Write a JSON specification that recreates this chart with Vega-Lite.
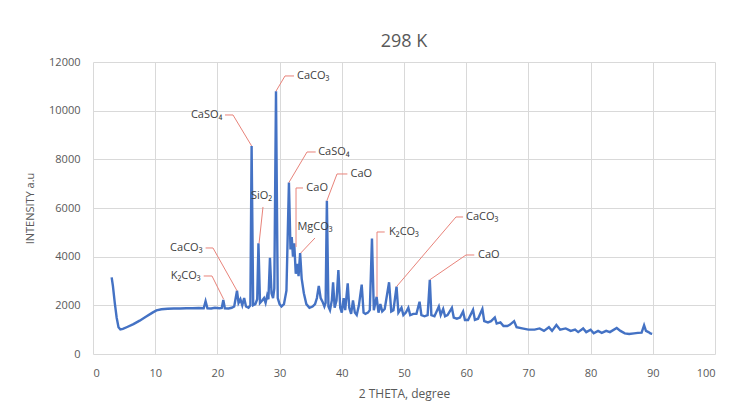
{
  "$schema": "https://vega.github.io/schema/vega-lite/v6.json",
  "autosize": "none",
  "width": 622,
  "height": 292,
  "padding": {"left": 93, "top": 62, "right": 17, "bottom": 57},
  "background": "white",
  "title": {"text": "298 K", "fontSize": 18, "font": "Open Sans", "fontWeight": "normal", "color": "#595959", "anchor": "middle", "offset": 5},
  "config": {"view": {"stroke": null}, "font": "Open Sans"},
  "datasets": {
    "xrd": [
      {"x":3.0,"y":3150},{"x":3.2,"y":2800},{"x":3.5,"y":2100},{"x":3.8,"y":1500},{"x":4.1,"y":1100},{"x":4.4,"y":1010},{"x":4.8,"y":1030},{"x":5.5,"y":1110},{"x":6.5,"y":1230},{"x":7.5,"y":1370},{"x":8.5,"y":1530},{"x":9.5,"y":1690},{"x":10.2,"y":1790},{"x":11,"y":1840},{"x":12,"y":1860},{"x":13,"y":1870},{"x":14,"y":1870},{"x":15,"y":1880},{"x":16,"y":1880},{"x":17,"y":1890},{"x":17.8,"y":1880},{"x":18.1,"y":2170},{"x":18.4,"y":1880},{"x":19,"y":1870},{"x":19.6,"y":1900},{"x":20.3,"y":1880},{"x":20.7,"y":1890},{"x":20.95,"y":2220},{"x":21.2,"y":1880},{"x":21.8,"y":1870},{"x":22.3,"y":1900},{"x":22.7,"y":1950},{"x":23.15,"y":2600},{"x":23.4,"y":2100},{"x":23.7,"y":2250},{"x":24.0,"y":2000},{"x":24.3,"y":2300},{"x":24.6,"y":1950},{"x":25.0,"y":1900},{"x":25.3,"y":2000},{"x":25.5,"y":8550},{"x":25.75,"y":2000},{"x":26.1,"y":2050},{"x":26.4,"y":2250},{"x":26.6,"y":4550},{"x":26.85,"y":2100},{"x":27.2,"y":2200},{"x":27.5,"y":2300},{"x":27.75,"y":2100},{"x":28.0,"y":2400},{"x":28.2,"y":2250},{"x":28.45,"y":3950},{"x":28.7,"y":2500},{"x":28.95,"y":2300},{"x":29.15,"y":2700},{"x":29.42,"y":10800},{"x":29.7,"y":2300},{"x":30.0,"y":2050},{"x":30.3,"y":1950},{"x":30.7,"y":2050},{"x":31.1,"y":2600},{"x":31.5,"y":7050},{"x":31.75,"y":4300},{"x":31.95,"y":4800},{"x":32.15,"y":4000},{"x":32.35,"y":4550},{"x":32.6,"y":3300},{"x":32.85,"y":3700},{"x":33.05,"y":3200},{"x":33.3,"y":4150},{"x":33.55,"y":3100},{"x":33.9,"y":2500},{"x":34.3,"y":2050},{"x":34.8,"y":1900},{"x":35.3,"y":1950},{"x":35.7,"y":2050},{"x":36.0,"y":2300},{"x":36.3,"y":2800},{"x":36.6,"y":2300},{"x":36.9,"y":2150},{"x":37.2,"y":1950},{"x":37.4,"y":2100},{"x":37.6,"y":6300},{"x":37.85,"y":1950},{"x":38.1,"y":1800},{"x":38.4,"y":2200},{"x":38.6,"y":2950},{"x":38.85,"y":1900},{"x":39.15,"y":2200},{"x":39.45,"y":3450},{"x":39.75,"y":1900},{"x":40.0,"y":1700},{"x":40.3,"y":2300},{"x":40.55,"y":1800},{"x":40.95,"y":2900},{"x":41.2,"y":1900},{"x":41.5,"y":1650},{"x":41.8,"y":2200},{"x":42.1,"y":1700},{"x":42.4,"y":1600},{"x":42.75,"y":2000},{"x":43.2,"y":2850},{"x":43.5,"y":1700},{"x":43.8,"y":1650},{"x":44.2,"y":1700},{"x":44.5,"y":1800},{"x":44.85,"y":4750},{"x":45.15,"y":1800},{"x":45.6,"y":2350},{"x":45.9,"y":1700},{"x":46.2,"y":2050},{"x":46.5,"y":1750},{"x":46.9,"y":1850},{"x":47.6,"y":2950},{"x":47.95,"y":1750},{"x":48.3,"y":1800},{"x":48.8,"y":2770},{"x":49.1,"y":1700},{"x":49.6,"y":1900},{"x":49.9,"y":1600},{"x":50.3,"y":1700},{"x":50.7,"y":1900},{"x":51.0,"y":1600},{"x":51.5,"y":1650},{"x":52.0,"y":1650},{"x":52.5,"y":2150},{"x":52.8,"y":1600},{"x":53.3,"y":1550},{"x":53.8,"y":1600},{"x":54.15,"y":3050},{"x":54.4,"y":1600},{"x":54.9,"y":1550},{"x":55.6,"y":1950},{"x":55.9,"y":1600},{"x":56.3,"y":1850},{"x":56.6,"y":1550},{"x":57.0,"y":1600},{"x":57.7,"y":1900},{"x":58.0,"y":1500},{"x":58.5,"y":1450},{"x":59.0,"y":1500},{"x":59.5,"y":1750},{"x":59.8,"y":1400},{"x":60.3,"y":1400},{"x":61.1,"y":1820},{"x":61.4,"y":1400},{"x":61.9,"y":1450},{"x":62.6,"y":1850},{"x":62.9,"y":1350},{"x":63.5,"y":1300},{"x":64.0,"y":1350},{"x":64.6,"y":1500},{"x":64.9,"y":1250},{"x":65.5,"y":1300},{"x":66.0,"y":1150},{"x":66.6,"y":1150},{"x":67.0,"y":1200},{"x":67.7,"y":1350},{"x":68.1,"y":1100},{"x":69,"y":1050},{"x":70,"y":1000},{"x":71,"y":1000},{"x":71.8,"y":1050},{"x":72.5,"y":950},{"x":73.3,"y":1100},{"x":73.8,"y":950},{"x":74.5,"y":1190},{"x":75.1,"y":1000},{"x":76,"y":1050},{"x":76.8,"y":950},{"x":77.5,"y":1000},{"x":78,"y":900},{"x":78.8,"y":1050},{"x":79.3,"y":900},{"x":80,"y":1000},{"x":80.5,"y":850},{"x":81.2,"y":950},{"x":81.8,"y":870},{"x":82.5,"y":950},{"x":83.1,"y":900},{"x":84.2,"y":1070},{"x":84.8,"y":950},{"x":85.5,"y":850},{"x":86.2,"y":820},{"x":87,"y":850},{"x":87.6,"y":870},{"x":88.2,"y":880},{"x":88.6,"y":1180},{"x":88.9,"y":950},{"x":89.3,"y":900},{"x":89.6,"y":850},{"x":89.9,"y":830}
    ],
    "leaders": [
      {"id":"A","o":1,"x":29.42,"y":10800},{"id":"A","o":2,"x":30.87,"y":11426},{"id":"A","o":3,"x":32.32,"y":11426},
      {"id":"B","o":1,"x":25.5,"y":8550},{"id":"B","o":2,"x":22.51,"y":9823},{"id":"B","o":3,"x":21.22,"y":9823},
      {"id":"C","o":1,"x":31.5,"y":7050},{"id":"C","o":2,"x":34.41,"y":8302},{"id":"C","o":3,"x":35.8,"y":8302},
      {"id":"D","o":1,"x":32.64,"y":4400},{"id":"D","o":2,"x":32.64,"y":6823},{"id":"D","o":3,"x":33.76,"y":6823},
      {"id":"E","o":1,"x":37.6,"y":6300},{"id":"E","o":2,"x":39.23,"y":7398},{"id":"E","o":3,"x":40.9,"y":7398},
      {"id":"F","o":1,"x":26.7,"y":4550},{"id":"F","o":2,"x":27.33,"y":6042},
      {"id":"G","o":1,"x":33.4,"y":4150},{"id":"G","o":2,"x":35.69,"y":4768},
      {"id":"H","o":1,"x":23.15,"y":2600},{"id":"H","o":2,"x":19.29,"y":4357},{"id":"H","o":3,"x":18.1,"y":4357},
      {"id":"I","o":1,"x":21.0,"y":2250},{"id":"I","o":2,"x":19.13,"y":3206},{"id":"I","o":3,"x":17.8,"y":3206},
      {"id":"J","o":1,"x":45.66,"y":2350},{"id":"J","o":2,"x":45.66,"y":5014},{"id":"J","o":3,"x":46.9,"y":5014},
      {"id":"K","o":1,"x":48.8,"y":2770},{"id":"K","o":2,"x":58.36,"y":5631},{"id":"K","o":3,"x":59.5,"y":5631},
      {"id":"L","o":1,"x":54.15,"y":3050},{"id":"L","o":2,"x":59.97,"y":4069},{"id":"L","o":3,"x":61.3,"y":4069}
    ],
    "labels": [
      {"label":"CaCO₃","x":32.8,"y":11426,"a":"left"},
      {"label":"CaSO₄","x":36.2,"y":8302,"a":"left"},
      {"label":"CaO","x":34.3,"y":6823,"a":"left"},
      {"label":"CaO","x":41.4,"y":7398,"a":"left"},
      {"label":"K₂CO₃","x":47.6,"y":5014,"a":"left"},
      {"label":"CaCO₃","x":59.97,"y":5631,"a":"left"},
      {"label":"CaO","x":61.9,"y":4069,"a":"left"},
      {"label":"CaSO₄","x":20.8,"y":9823,"a":"right"},
      {"label":"CaCO₃","x":17.6,"y":4357,"a":"right"},
      {"label":"K₂CO₃","x":17.3,"y":3206,"a":"right"},
      {"label":"SiO₂","x":27.1,"y":6494,"a":"center"},
      {"label":"MgCO₃","x":35.7,"y":5220,"a":"center"}
    ]
  },
  "layer": [
    {
      "data": {"name": "xrd"},
      "mark": {"type": "line", "color": "#4472C4", "strokeWidth": 2.4, "interpolate": "linear"},
      "encoding": {
        "x": {"field": "x", "type": "quantitative", "scale": {"domain": [0, 100], "nice": false},
          "axis": {"values": [0,10,20,30,40,50,60,70,80,90,100], "title": "2 THETA, degree", "titleFontSize": 12, "titleFontWeight": "normal", "titleColor": "#595959", "titleY": 39, "titleBaseline": "middle",
            "labelFontSize": 11, "labelColor": "#595959", "labelPadding": 13, "ticks": false, "tickSize": 0, "domain": false,
            "grid": true, "gridColor": "#D9D9D9", "gridWidth": 1}},
        "y": {"field": "y", "type": "quantitative", "scale": {"domain": [0, 12000], "nice": false},
          "axis": {"values": [0,2000,4000,6000,8000,10000,12000], "format": "d", "title": "INTENSITY a.u", "titleFontSize": 11, "titleFontWeight": "normal", "titleColor": "#595959", "titleX": -63, "titleY": 146, "titleAngle": 270, "titleBaseline": "middle", "titleAlign": "center",
            "labelFontSize": 11, "labelColor": "#595959", "labelPadding": 13, "ticks": false, "tickSize": 0, "domain": false,
            "grid": true, "gridColor": "#D9D9D9", "gridWidth": 1}}
      }
    },
    {
      "data": {"name": "leaders"},
      "mark": {"type": "line", "color": "#E8837A", "strokeWidth": 1},
      "encoding": {
        "x": {"field": "x", "type": "quantitative"},
        "y": {"field": "y", "type": "quantitative"},
        "detail": {"field": "id"},
        "order": {"field": "o", "type": "quantitative"}
      }
    },
    {
      "data": {"name": "labels"},
      "transform": [{"filter": "datum.a === 'left'"}],
      "mark": {"type": "text", "align": "left", "baseline": "middle", "fontSize": 11, "color": "#404040"},
      "encoding": {"x": {"field": "x", "type": "quantitative"}, "y": {"field": "y", "type": "quantitative"}, "text": {"field": "label"}}
    },
    {
      "data": {"name": "labels"},
      "transform": [{"filter": "datum.a === 'right'"}],
      "mark": {"type": "text", "align": "right", "baseline": "middle", "fontSize": 11, "color": "#404040"},
      "encoding": {"x": {"field": "x", "type": "quantitative"}, "y": {"field": "y", "type": "quantitative"}, "text": {"field": "label"}}
    },
    {
      "data": {"name": "labels"},
      "transform": [{"filter": "datum.a === 'center'"}],
      "mark": {"type": "text", "align": "center", "baseline": "middle", "fontSize": 11, "color": "#404040"},
      "encoding": {"x": {"field": "x", "type": "quantitative"}, "y": {"field": "y", "type": "quantitative"}, "text": {"field": "label"}}
    }
  ]
}
